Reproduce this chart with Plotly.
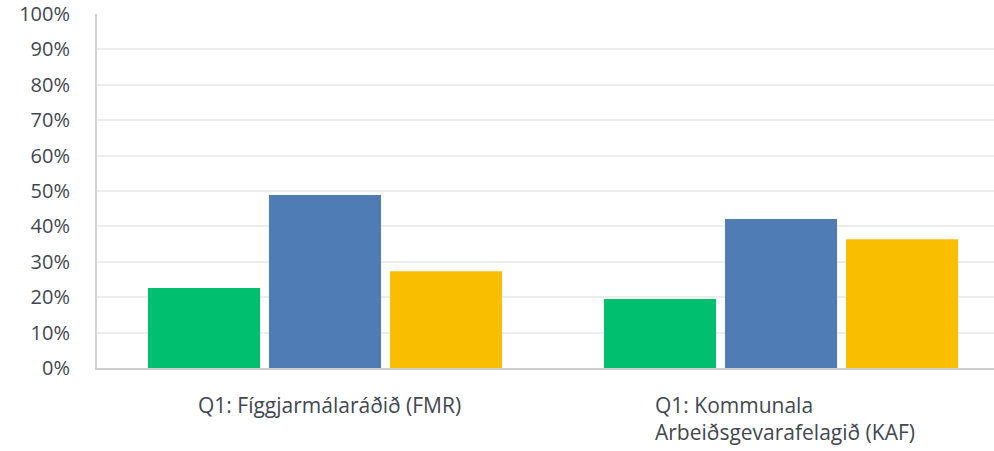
import plotly.graph_objects as go

categories = ["Q1: Fíggjarmálaráðið (FMR)", "Q1: Kommunala<br>Arbeiðsgevarafelagið (KAF)"]
series_names = ["Series 1", "Series 2", "Series 3"]
series_values = [
    [22.6, 19.5],
    [48.9, 42.1],
    [27.3, 36.4],
]
colors = ["#00BF6F", "#507CB6", "#F9BE00"]
y_ticks = [0, 10, 20, 30, 40, 50, 60, 70, 80, 90, 100]
y_tick_labels = [f"{v}%" for v in y_ticks]

fig = go.Figure()
for name, vals, c in zip(series_names, series_values, colors):
    fig.add_trace(go.Bar(
        x=[0, 1], y=vals, name=name, marker=dict(color=c, line=dict(width=0)),
        hoverinfo="y"
    ))

text_color = "#3F4850"
font_family = "'Open Sans', Roboto, sans-serif"

for i, cat in enumerate(categories):
    fig.add_annotation(
        x=i, y=0, xref="x", yref="paper", text=cat, showarrow=False,
        xanchor="center", yanchor="top", align="left", yshift=-21, xshift=4,
        font=dict(size=21, color=text_color, family=font_family),
    )

fig.update_layout(
    width=994, height=451,
    margin=dict(l=97, r=0, t=14, b=83),
    paper_bgcolor="white", plot_bgcolor="white",
    barmode="group", bargap=0.204, bargroupgap=0.074,
    showlegend=False,
    font=dict(family=font_family, color=text_color, size=20),
)
fig.update_xaxes(
    type="linear", range=[-0.5, 1.467], showticklabels=False, showgrid=False,
    zeroline=False, showline=True, linecolor="#CFCFCF", linewidth=2, ticks="",
    automargin=False,
)
fig.update_yaxes(
    range=[0, 100], tickvals=y_ticks, ticktext=y_tick_labels,
    showgrid=True, gridcolor="#EDEDED", gridwidth=2,
    zeroline=False, showline=True, linecolor="#D3D3D3", linewidth=2,
    ticks="", ticklabelstandoff=21, automargin=False,
    tickfont=dict(size=20, color=text_color, family=font_family),
)

# remove the browser's default 8px body margin so the figure fills the window
fig.write_html(
    "out.html",
    config={"displayModeBar": False},
    post_script="document.body.style.margin='0';",
)
